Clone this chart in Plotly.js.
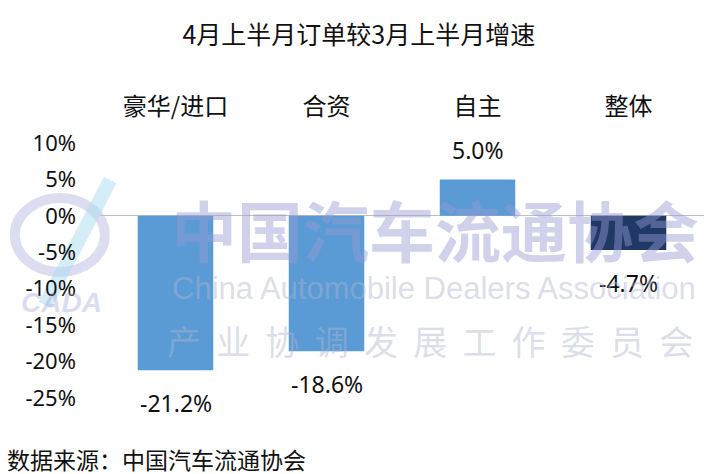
<!DOCTYPE html>
<html>
<head>
<meta charset="utf-8">
<script src="https://cdn.plot.ly/plotly-3.0.1.min.js"></script>
<style>html,body{margin:0;padding:0;background:#fff;}#chart{width:722px;height:474px;}</style>
</head>
<body>
<div id="chart"></div>
<script>
const categories = ['豪华/进口', '合资', '自主', '整体'];
const values = [-21.2, -18.6, 5.0, -4.7];
const barColors = ['#5B9BD5', '#5B9BD5', '#5B9BD5', '#203864'];
const yTickVals = [-25, -20, -15, -10, -5, 0, 5, 10];
const yTickText = ['-25%', '-20%', '-15%', '-10%', '-5%', '0%', '5%', '10%'];
const titleText = '4月上半月订单较3月上半月增速';
const sourceText = '数据来源：中国汽车流通协会';

const FONT = '"Noto Sans CJK SC", "Noto Sans", sans-serif';
const NUMFONT = '"Noto Sans", "Noto Sans CJK SC", sans-serif';

const trace = {
  type: 'bar',
  x: categories,
  y: values,
  marker: {color: barColors},
  hoverinfo: 'none'
};

const labelAnnotations = values.map((v, i) => ({
  x: categories[i], y: v, xref: 'x', yref: 'y',
  text: v.toFixed(1) + '%',
  showarrow: false,
  yanchor: v >= 0 ? 'bottom' : 'top',
  yshift: v >= 0 ? 11 : -15,
  font: {family: NUMFONT, size: 23, color: '#111'}
}));

const watermark = [
  {xref: 'paper', yref: 'paper', x: 0.555, y: 0.667, xanchor: 'center', yanchor: 'middle',
   text: '<b>中国汽车流通协会</b>', showarrow: false,
   font: {family: '"Noto Sans CJK SC", sans-serif', size: 66, color: 'rgba(150,155,210,0.45)'}},
  {xref: 'paper', yref: 'paper', x: 0.553, y: 0.431, xanchor: 'center', yanchor: 'middle',
   text: 'China Automobile Dealers Association', showarrow: false,
   font: {family: '"Liberation Sans", Arial, sans-serif', size: 31, color: 'rgba(175,180,210,0.45)'}},
  {xref: 'paper', yref: 'paper', x: 0.547, y: 0.227, xanchor: 'center', yanchor: 'middle',
   text: '产  业  协  调  发  展  工  作  委  员  会', showarrow: false,
   font: {family: '"Noto Sans CJK SC", sans-serif', size: 34, color: 'rgba(175,180,210,0.45)'}},
  {xref: 'paper', yref: 'paper', x: -0.063, y: 0.373, xanchor: 'center', yanchor: 'middle',
   text: '<b><i>CADA</i></b>', showarrow: false,
   font: {family: '"Liberation Sans", Arial, sans-serif', size: 28, color: 'rgba(150,155,210,0.35)'}}
];

const sourceAnn = {
  xref: 'paper', yref: 'paper', x: -0.157, y: -0.24, xanchor: 'left', yanchor: 'middle',
  text: sourceText, showarrow: false,
  font: {family: FONT, size: 23, color: '#111'}
};

const layout = {
  width: 722, height: 474,
  margin: {l: 100, r: 18, t: 143, b: 76},
  paper_bgcolor: '#fff', plot_bgcolor: 'rgba(0,0,0,0)',
  showlegend: false,
  bargap: 0.5,
  title: {text: titleText, x: 0.497, xref: 'container', xanchor: 'center', y: 1 - 35 / 474, yref: 'container', yanchor: 'middle',
          font: {family: FONT, size: 25, color: '#111'}},
  xaxis: {
    side: 'top', showgrid: false, showline: false, ticks: '', zeroline: false,
    ticklabelstandoff: 22,
    tickfont: {family: FONT, size: 24, color: '#111'}
  },
  yaxis: {
    range: [-25, 10], tickvals: yTickVals, ticktext: yTickText,
    showgrid: false, showline: false, ticks: '',
    zeroline: true, zerolinecolor: '#bfbfbf', zerolinewidth: 1,
    ticklabelstandoff: 23,
    tickfont: {family: NUMFONT, size: 22, color: '#111'}
  },
  shapes: [
    {type: 'circle', xref: 'paper', yref: 'paper', x0: -0.141, x1: 0.008, y0: 0.494, y1: 0.784,
     line: {color: 'rgba(170,170,220,0.4)', width: 10}, layer: 'below'},
    {type: 'line', xref: 'paper', yref: 'paper', x0: 0.017, y0: 0.855, x1: -0.091, y1: 0.365,
     line: {color: 'rgba(170,220,240,0.5)', width: 14}, layer: 'below'}
  ],
  annotations: labelAnnotations.concat(watermark, [sourceAnn])
};

Plotly.newPlot('chart', [trace], layout, {displayModeBar: false, staticPlot: true});
</script>
</body>
</html>
